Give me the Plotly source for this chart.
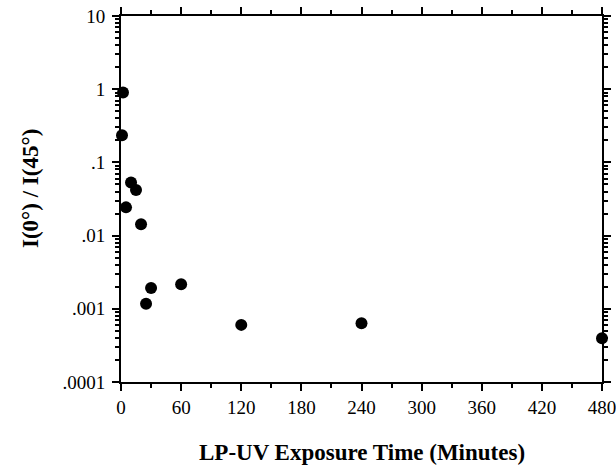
import plotly.graph_objects as go

time_min = [2, 1, 10, 15, 5, 20, 30, 60, 25, 120, 240, 480]
ratio = [0.90, 0.235, 0.053, 0.042, 0.0243, 0.0143, 0.00193, 0.00217, 0.00117, 0.000603, 0.000637, 0.000397]

x_ticks = [0, 60, 120, 180, 240, 300, 360, 420, 480]
y_tickvals = [0.0001, 0.001, 0.01, 0.1, 1, 10]
y_ticktext = [".0001", ".001", ".01", ".1", "1", "10"]
y_minor = [m * 10.0 ** k for k in range(-4, 1) for m in range(2, 10)]

serif = "Liberation Serif"

fig = go.Figure()
fig.add_trace(go.Scatter(
    x=time_min, y=ratio, mode="markers",
    marker=dict(size=12, color="black"),
    cliponaxis=False, showlegend=False,
))

fig.update_layout(
    width=616, height=474,
    margin=dict(l=121, r=14, t=16, b=92),
    plot_bgcolor="white", paper_bgcolor="white",
    font=dict(family=serif, color="black", size=19),
    xaxis=dict(
        range=[0, 480], tickvals=x_ticks, ticktext=[str(v) for v in x_ticks],
        showgrid=False, zeroline=False, automargin=False, ticklabeloverflow="allow",
        showline=True, linecolor="black", linewidth=2, mirror="all",
        ticks="outside", ticklen=7, tickwidth=1.5, tickcolor="black",
        minor=dict(dtick=30, tick0=0, ticks="outside", ticklen=4, tickwidth=1.5,
                   tickcolor="black", showgrid=False),
        tickfont=dict(family=serif, size=19),
    ),
    yaxis=dict(
        type="log", range=[-4, 1], tickvals=y_tickvals, ticktext=y_ticktext,
        showgrid=False, zeroline=False, automargin=False, ticklabeloverflow="allow",
        showline=True, linecolor="black", linewidth=2, mirror="all",
        ticks="outside", ticklen=7, tickwidth=1.5, tickcolor="black",
        ticklabelstandoff=3,
        minor=dict(tickmode="array", tickvals=y_minor, ticks="outside", ticklen=4,
                   tickwidth=1.5, tickcolor="black", showgrid=False),
        tickfont=dict(family=serif, size=19),
    ),
    annotations=[
        dict(text="<b>LP-UV Exposure Time (Minutes)</b>", xref="paper", yref="paper",
             x=0.5, y=0, yshift=-70, xanchor="center", yanchor="middle",
             showarrow=False, font=dict(family=serif, size=23)),
        dict(text="<b>I(0°) / I(45°)</b>", xref="paper", yref="paper",
             x=0, y=0.5, xshift=-91, yshift=10, textangle=-90,
             xanchor="center", yanchor="middle",
             showarrow=False, font=dict(family=serif, size=23)),
    ],
)

fig.write_html("out.html", config={"displayModeBar": False},
               post_script="document.body.style.margin='0';")
